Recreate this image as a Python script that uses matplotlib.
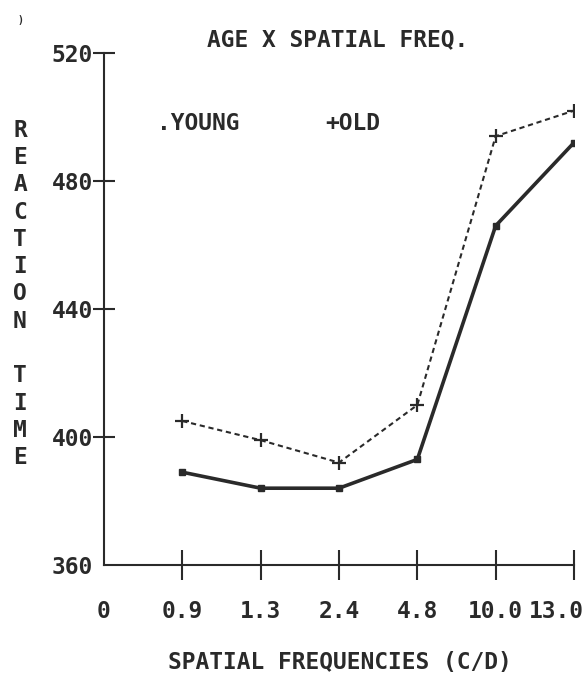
import matplotlib
matplotlib.use("Agg")
import matplotlib.pyplot as plt
import matplotlib.transforms as mtransforms

# spatial frequency conditions (c/d), plotted at equal spacing
freq_labels = ["0", "0.9", "1.3", "2.4", "4.8", "10.0", "13.0"]
young_rt = [389, 384, 384, 393, 466, 492]
old_rt = [405, 399, 392, 410, 494, 502]
y_ticks = [360, 400, 440, 480, 520]

plt.rcParams['font.family'] = ['DejaVu Sans Mono']
plt.rcParams['font.weight'] = 'bold'
fs = 16.5
ink = "#2a2a2a"

fig = plt.figure(figsize=(5.86, 6.78), dpi=100)
ax = fig.add_axes([104 / 586, 1 - 565 / 678, (574 - 104) / 586, (565 - 53) / 678])

x = list(range(1, len(young_rt) + 1))
ax.plot(x, old_rt, color=ink, lw=1.5, dashes=(2.5, 1.8),
        marker="+", ms=10, mew=1.6)
ax.plot(x, young_rt, color=ink, lw=2.6, marker="s", ms=4.5)

ax.set_xlim(0, 6)
ax.set_ylim(360, 520)
ax.set_xticks(range(len(freq_labels)))
ax.set_xticklabels(freq_labels, fontsize=fs, color=ink)
ax.set_yticks(y_ticks)
ax.set_yticklabels([str(v) for v in y_ticks], fontsize=fs, color=ink)

for s in ["top", "right"]:
    ax.spines[s].set_visible(False)
for s in ["left", "bottom"]:
    ax.spines[s].set_linewidth(1.5)
    ax.spines[s].set_color(ink)

ax.tick_params(axis="x", direction="inout", length=22, width=1.5, pad=14, colors=ink)
ax.tick_params(axis="y", direction="inout", length=16, width=1.5, pad=0, colors=ink)
ax.xaxis.get_major_ticks()[0].tick1line.set_visible(False)
ax.yaxis.get_major_ticks()[0].tick1line.set_visible(False)

# last label sits left of its tick so it fits on the page
last = ax.get_xticklabels()[-1]
last.set_transform(last.get_transform() + mtransforms.ScaledTranslation(-18 / 100, 0, fig.dpi_scale_trans))

fig.text(338 / 586, 1 - 40 / 678, "AGE X SPATIAL FREQ.", fontsize=fs,
         ha="center", va="center", color=ink)
fig.text(157 / 586, 1 - 123 / 678, ".YOUNG", fontsize=fs,
         ha="left", va="center", color=ink)
fig.text(325 / 586, 1 - 123 / 678, "+OLD", fontsize=fs,
         ha="left", va="center", color=ink)
fig.text(340 / 586, 1 - 663 / 678, "SPATIAL FREQUENCIES (C/D)", fontsize=fs,
         ha="center", va="center", color=ink)
fig.text(20 / 586, 1 - 294 / 678, "\n".join("REACTION TIME"), fontsize=fs,
         ha="center", va="center", color=ink, linespacing=1.24)
fig.text(20 / 586, 1 - 20 / 678, ")", fontsize=7, ha="center", va="center", color=ink)

fig.savefig("out.png", dpi=100, facecolor="white")
